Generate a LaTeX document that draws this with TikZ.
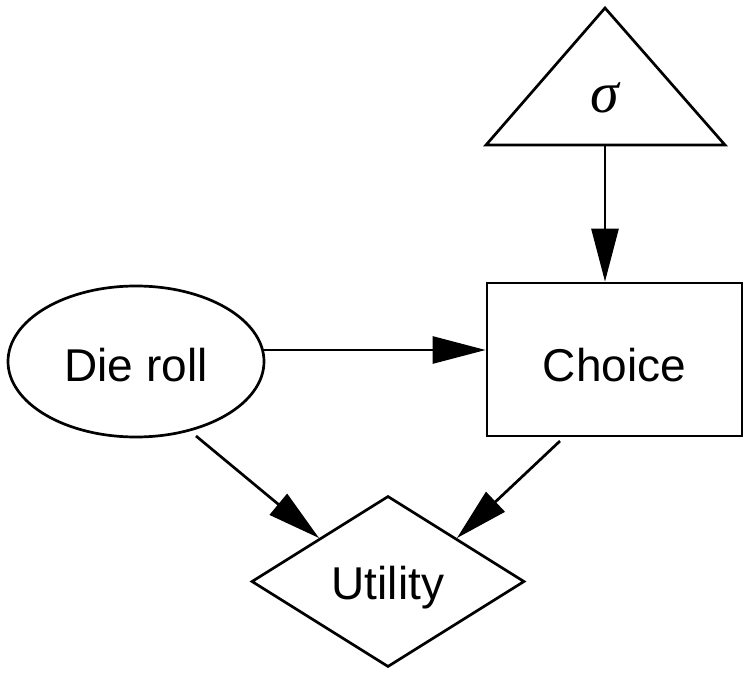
\documentclass[tikz,border=0pt]{standalone}
\usepackage{fontspec}
\setmainfont{Liberation Sans}
\newfontfamily\sigmafont{Liberation Serif}
\usetikzlibrary{shapes.geometric,arrows.meta}
\begin{document}
\begin{tikzpicture}[x=1pt,y=-1pt,
  every node/.style={font=\fontsize{46}{50}\selectfont},
  shp/.style={draw, line width=2.7pt},
  arr/.style={line width=2.7pt, -{Triangle[length=53pt,width=27pt]}}]
\useasboundingbox (0,0) rectangle (750,676);
\node[shp, ellipse, minimum width=256pt, minimum height=151pt, inner sep=0pt, text height=40pt, text depth=0pt] (die) at (136,361.5) {Die roll};
\node[shp, rectangle, minimum width=255pt, minimum height=153pt, inner sep=0pt, text height=44pt, text depth=0pt] (choice) at (614.5,359.5) {Choice};
\node[shp, diamond, minimum width=273pt, minimum height=171pt, inner sep=0pt, text height=36pt, text depth=0pt] (util) at (388,581.5) {Utility};
\coordinate (apex) at (605,8);
\coordinate (tl) at (486,145);
\coordinate (tr) at (725,145);
\draw[line width=2.7pt, line join=miter] (apex) -- (tl) -- (tr) -- cycle;
\node[font=\fontsize{58}{60}\sigmafont\itshape] (sigma) at (605,98) {σ};
\coordinate (tb) at (605,145);
\coordinate (d1) at (263,350);
\coordinate (d2) at (196,436);
\coordinate (c2) at (560,441);
\draw[arr] (tb) -- (tb |- choice.north);
\draw[arr] (d1) -- (d1 -| choice.west);
\draw[arr] (d2) -- (util.north west);
\draw[arr] (c2) -- (util.north east);
\end{tikzpicture}
\end{document}
